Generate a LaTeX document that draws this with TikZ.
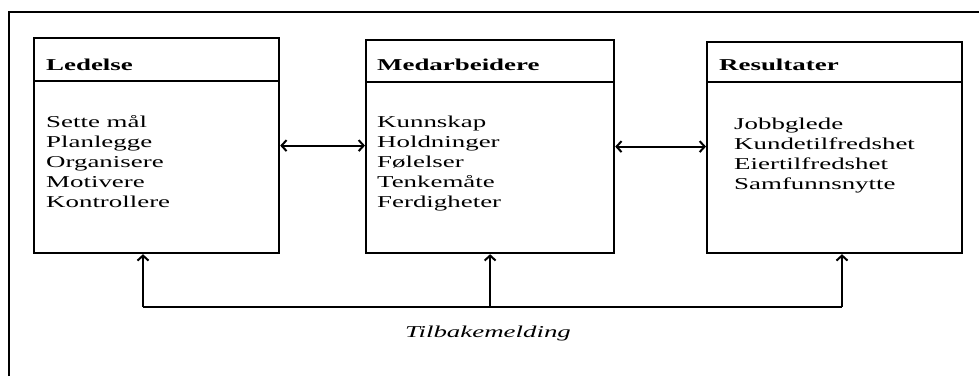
\documentclass[tikz,border=0pt]{standalone}
\usepackage{fontspec}
\setmainfont{Liberation Serif}[FakeStretch=1.62,
  BoldFont={Liberation Serif Bold}, ItalicFont={Liberation Serif Italic}]
\usetikzlibrary{positioning,arrows.meta}

\tikzset{
  blokk/.style={draw, line width=2.2pt, inner sep=0pt, anchor=north west},
  tittel/.style={font=\fontsize{16.6}{20}\selectfont\bfseries, anchor=base west, inner sep=0pt},
  punkt/.style={font=\fontsize{16.6}{20}\selectfont, anchor=base west, inner sep=0pt},
  pil/.style={line width=2pt, >={Straight Barb[length=5pt,width=11pt]}}
}

\begin{document}
\begin{tikzpicture}[x=1pt,y=-1pt]
    \useasboundingbox (0,0) rectangle (979,376);

    % ramme
    \draw [line width=2.2pt] (9,376) -- (9,12) -- (979,12);

    \node [blokk, minimum width=245, minimum height=215] (ledelse) at (33,37) {};
    \node [blokk, minimum width=248, minimum height=213] (medarb) at (365,39) {};
    \node [blokk, minimum width=255, minimum height=211] (resultat) at (706,41) {};

    \draw [line width=1.8pt] ([yshift=-44pt]ledelse.north west) -- ([yshift=-44pt]ledelse.north east);
    \draw [line width=1.8pt] ([yshift=-43pt]medarb.north west) -- ([yshift=-43pt]medarb.north east);
    \draw [line width=1.8pt] ([yshift=-41pt]resultat.north west) -- ([yshift=-41pt]resultat.north east);

    \node [tittel] (t-ledelse) at (46,70) {Ledelse};
    \node [tittel] (t-medarb) at (377,70) {Medarbeidere};
    \node [tittel] (t-resultat) at (719,70) {Resultater};

    \foreach \tekst [count=\i] in {Sette mål, Planlegge, Organisere, Motivere, Kontrollere}
      \node [punkt] (l\i) at (46,107+20*\i) {\tekst};
    \foreach \tekst [count=\i] in {Kunnskap, Holdninger, Følelser, Tenkemåte, Ferdigheter}
      \node [punkt] (m\i) at (377,107+20*\i) {\tekst};
    \foreach \tekst [count=\i] in {Jobbglede, Kundetilfredshet, Eiertilfredshet, Samfunnsnytte}
      \node [punkt] (r\i) at (734,109+20*\i) {\tekst};

    \draw [pil, <->] (ledelse.east) -- (ledelse.east -| medarb.west);
    \draw [pil, <->] (medarb.east) -- (medarb.east -| resultat.west);

    % tilbakemelding
    \coordinate (venstre) at (143,307);
    \coordinate (hoyre) at (842,307);
    \draw [pil] (venstre) -- (hoyre);
    \draw [pil, ->] (venstre) -- (venstre |- ledelse.south);
    \draw [pil, ->] (venstre -| medarb.south) -- (medarb.south);
    \draw [pil, ->] (hoyre) -- (hoyre |- resultat.south);

    \node [punkt, font=\fontsize{16.6}{20}\selectfont\itshape, anchor=base] (tilbake) at (488,337) {Tilbakemelding};
  \end{tikzpicture}
\end{document}
